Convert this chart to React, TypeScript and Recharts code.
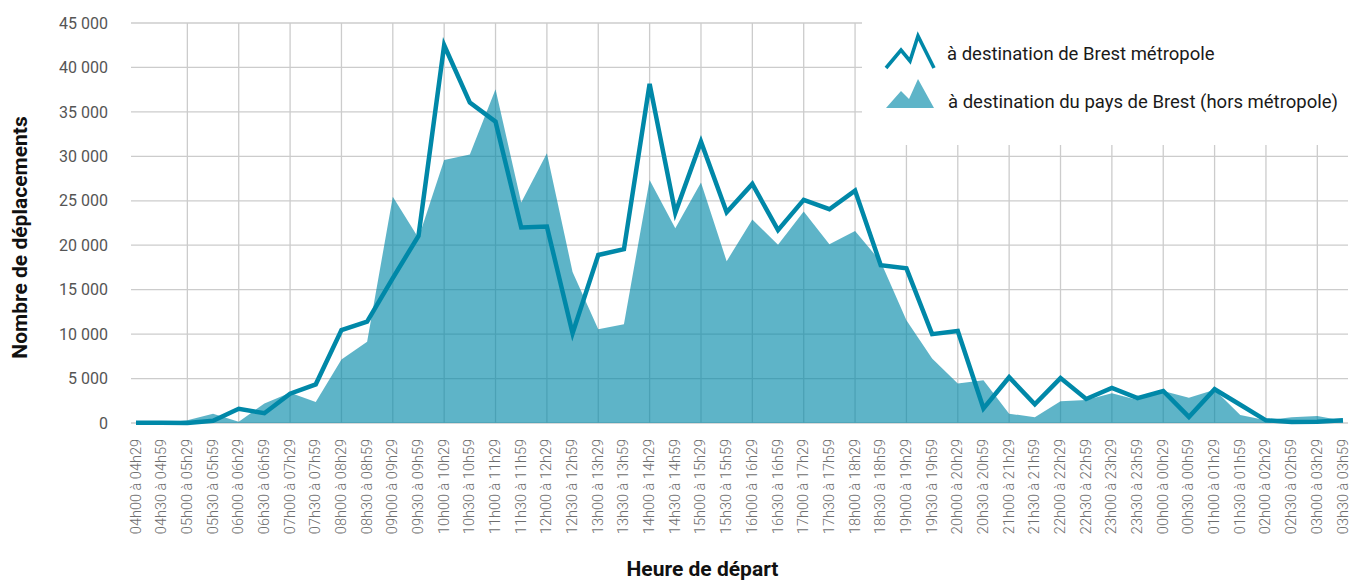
import React from 'react';
import { ComposedChart, Line, Area, XAxis, YAxis, CartesianGrid, Legend } from 'recharts';

const categories = [
  '04h00 à 04h29', '04h30 à 04h59', '05h00 à 05h29', '05h30 à 05h59',
  '06h00 à 06h29', '06h30 à 06h59', '07h00 à 07h29', '07h30 à 07h59',
  '08h00 à 08h29', '08h30 à 08h59', '09h00 à 09h29', '09h30 à 09h59',
  '10h00 à 10h29', '10h30 à 10h59', '11h00 à 11h29', '11h30 à 11h59',
  '12h00 à 12h29', '12h30 à 12h59', '13h00 à 13h29', '13h30 à 13h59',
  '14h00 à 14h29', '14h30 à 14h59', '15h00 à 15h29', '15h30 à 15h59',
  '16h00 à 16h29', '16h30 à 16h59', '17h00 à 17h29', '17h30 à 17h59',
  '18h00 à 18h29', '18h30 à 18h59', '19h00 à 19h29', '19h30 à 19h59',
  '20h00 à 20h29', '20h30 à 20h59', '21h00 à 21h29', '21h30 à 21h59',
  '22h00 à 22h29', '22h30 à 22h59', '23h00 à 23h29', '23h30 à 23h59',
  '00h00 à 00h29', '00h30 à 00h59', '01h00 à 01h29', '01h30 à 01h59',
  '02h00 à 02h29', '02h30 à 02h59', '03h00 à 03h29', '03h30 à 03h59',
];

// à destination de Brest métropole
const metropole = [
  30, 30, 0, 260, 1600, 1100, 3300, 4350,
  10450, 11400, 16300, 21050, 42500, 36050, 33900, 22000,
  22100, 10100, 18900, 19550, 38150, 23650, 31650, 23700,
  26900, 21700, 25100, 24050, 26150, 17750, 17400, 10000,
  10350, 1650, 5150, 2100, 5050, 2700, 3950, 2800,
  3600, 680, 3800, 2050, 300, 100, 150, 300,
];

// à destination du pays de Brest (hors métropole)
const paysBrest = [
  0, 0, 300, 1050, 150, 2200, 3400, 2350,
  7150, 9150, 25450, 20800, 29600, 30200, 37550, 24800,
  30350, 17000, 10550, 11100, 27350, 21900, 27050, 18200,
  22900, 20050, 23800, 20100, 21600, 18150, 11550, 7250,
  4450, 4800, 1050, 650, 2450, 2600, 3350, 2600,
  3600, 2850, 3750, 900, 300, 650, 800, 250,
];

const yTicks = [0, 5000, 10000, 15000, 20000, 25000, 30000, 35000, 40000, 45000];

const seriesNames = {
  metropole: 'à destination de Brest métropole',
  paysBrest: 'à destination du pays de Brest (hors métropole)',
};

const LINE_COLOR = '#0088a8';

const data = categories.map((c, i) => ({
  cat: c,
  metropole: metropole[i],
  paysBrest: paysBrest[i],
}));

const fmt = (v: number) => String(v).replace(/\B(?=(\d{3})+(?!\d))/g, ' ');

const XTick = (props: any) => {
  const { x, y, payload } = props;
  return (
    <text
      x={x}
      y={y}
      transform={`rotate(-90 ${x} ${y})`}
      textAnchor="end"
      dominantBaseline="central"
      fontFamily="Roboto"
      fontWeight={300}
      fontSize={14.5}
      fill="#6e6e6e"
    >
      {payload.value}
    </text>
  );
};

const YTitle = (props: any) => {
  const vb = props.viewBox || { x: 0, y: 23, width: 131, height: 400 };
  const x = vb.x + 27;
  const y = vb.y + vb.height / 2 + 14.5;
  return (
    <text
      x={x}
      y={y}
      transform={`rotate(-90 ${x} ${y})`}
      textAnchor="middle"
      fontFamily="Roboto"
      fontWeight={700}
      fontSize={21}
      fill="#111"
    >
      Nombre de déplacements
    </text>
  );
};

const XTitle = (props: any) => {
  const vb = props.viewBox || { x: 131, y: 423, width: 1217, height: 158 };
  return (
    <text
      x={vb.x + vb.width / 2 - 37}
      y={vb.y + vb.height - 5}
      textAnchor="middle"
      fontFamily="Roboto"
      fontWeight={700}
      fontSize={21}
      fill="#111"
    >
      Heure de départ
    </text>
  );
};

const LegendContent = () => (
  <svg width={492} height={145} style={{ display: 'block' }}>
    <polyline
      points="24,68 39,50 48,61 56,36 72,68"
      fill="none"
      stroke={LINE_COLOR}
      strokeWidth={3.6}
    />
    <polygon points="24,108 39,91 47,99 56,79 72,108" fill={LINE_COLOR} fillOpacity={0.63} />
    <text x={85} y={60} fontFamily="Roboto" fontSize={18.5} fill="#1a1a1a">
      {seriesNames.metropole}
    </text>
    <text x={86} y={108} fontFamily="Roboto" fontSize={18.5} fill="#1a1a1a">
      {seriesNames.paysBrest}
    </text>
  </svg>
);

const verticalGen = (args: any) => {
  const { xAxis, offset } = args || {};
  const out: number[] = [];
  categories.forEach((c, i) => {
    if (i === 0 || i % 2 !== 0) return;
    let px: number | undefined;
    if (xAxis && typeof xAxis.scale === 'function') {
      px = xAxis.scale(c);
    }
    if (px === undefined || isNaN(px)) {
      const left = (offset?.left ?? 131) + 5;
      const w = (offset?.width ?? 1217) - 10;
      px = left + (i * w) / (categories.length - 1);
    }
    out.push(px);
  });
  return out;
};

export default function App() {
  return (
    <div style={{ position: 'absolute', left: 0, top: 0, width: 1354, height: 581, background: '#fff' }}>
      <ComposedChart
        width={1354}
        height={581}
        data={data}
        margin={{ top: 23, right: 6, bottom: 0, left: 0 }}
      >
        <CartesianGrid
          stroke="#cccccc"
          strokeWidth={1.3}
          verticalCoordinatesGenerator={verticalGen}
        />
        <XAxis
          dataKey="cat"
          interval={0}
          height={158}
          padding={{ left: 5, right: 5 }}
          axisLine={false}
          tickLine={false}
          tickSize={0}
          tickMargin={16}
          tick={<XTick />}
          label={<XTitle />}
        />
        <YAxis
          width={131}
          domain={[0, 45000]}
          ticks={yTicks}
          interval={0}
          axisLine={false}
          tickLine={false}
          tickSize={0}
          tickMargin={23}
          tickFormatter={fmt}
          tick={{ fill: '#555', fontSize: 16, fontFamily: 'Roboto' }}
          label={<YTitle />}
        />
        <Area
          type="linear"
          dataKey="paysBrest"
          name={seriesNames.paysBrest}
          stroke="none"
          fill={LINE_COLOR}
          fillOpacity={0.63}
          isAnimationActive={false}
          dot={false}
          activeDot={false}
        />
        <Line
          type="linear"
          dataKey="metropole"
          name={seriesNames.metropole}
          stroke={LINE_COLOR}
          strokeWidth={4.5}
          dot={false}
          activeDot={false}
          isAnimationActive={false}
        />
        <Legend
          layout="horizontal"
          verticalAlign="middle"
          align="center"
          content={<LegendContent />}
          wrapperStyle={{ position: 'absolute', left: 862, top: 0, width: 492, height: 145, background: '#fff' }}
        />
      </ComposedChart>
    </div>
  );
}
